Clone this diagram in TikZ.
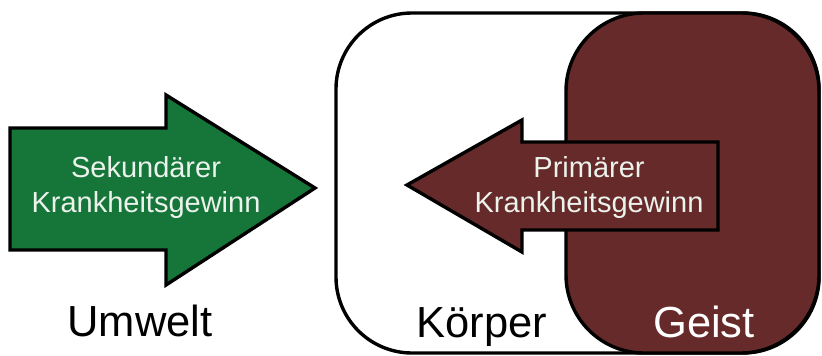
\documentclass[tikz,border=0pt]{standalone}
\usepackage{fontspec}
\setmainfont{Liberation Sans}
\definecolor{arrgreen}{RGB}{22,118,58}
\definecolor{darkred}{RGB}{103,42,42}
\definecolor{paletext}{RGB}{236,242,236}
\begin{document}
\begin{tikzpicture}[x=1pt,y=-1pt,
  outline/.style={draw=black,line width=3.4pt,line join=miter},
  innertext/.style={align=center,anchor=base,text=paletext,font=\fontsize{29}{34.5}\selectfont,inner sep=0pt},
  bigtext/.style={anchor=base,font=\fontsize{43.5}{50}\selectfont,inner sep=0pt}]
\useasboundingbox (0,0) rectangle (822,356);
% body box
\draw[outline,fill=white,rounded corners=76pt] (336,13) rectangle (819,353);
% mind box
\draw[outline,fill=darkred,rounded corners=78pt] (566,13) rectangle (819,353);
% green arrow
\draw[outline,fill=arrgreen] (10,128) -- (166,128) -- (166,95) -- (315,188) -- (166,285) -- (166,250) -- (10,250) -- cycle;
% red arrow
\draw[outline,fill=darkred] (718,142) -- (522,142) -- (522,120) -- (407,185) -- (522,252) -- (522,230) -- (718,230) -- cycle;
% texts
\node[innertext] (sek) at (146,212) {Sekundärer\\Krankheitsgewinn};
\node[innertext] (prim) at (589,212) {Primärer\\Krankheitsgewinn};
\node[bigtext] (umwelt) at (140,336) {Umwelt};
\node[bigtext] (koerper) at (482,337) {Körper};
\node[bigtext,text=white] (geist) at (704,337) {Geist};
\end{tikzpicture}
\end{document}
